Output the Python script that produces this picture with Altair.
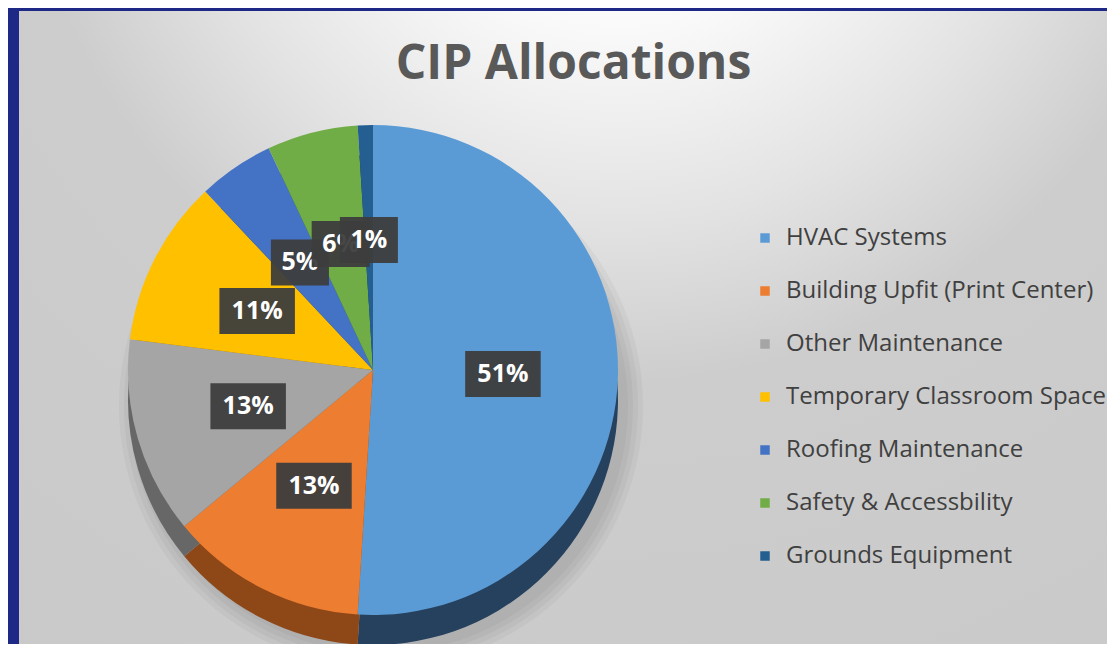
import altair as alt
import pandas as pd

# ---- data ----
categories = [
    "HVAC Systems",
    "Building Upfit (Print Center)",
    "Other Maintenance",
    "Temporary Classroom Space",
    "Roofing Maintenance",
    "Safety & Accessbility",
    "Grounds Equipment",
]
shares = [51, 13, 13, 11, 5, 6, 1]

# ---- styles ----
top_colors = ["#5B9BD5", "#ED7D31", "#A5A5A5", "#FFC000", "#4472C4", "#70AD47", "#255E91"]
side_colors = ["#26415E", "#8E4717", "#676767", "#9A7400", "#2A4679", "#456B2C", "#163A5A"]

df = pd.DataFrame({"category": categories, "value": shares, "order": list(range(len(categories)))})

W, H = 1099, 636
CX, CY, R = 365, 362, 245
DEPTH = 30
LR = 130
FONT = "Open Sans"

one = pd.DataFrame({"k": [0]})

panel = alt.Chart(one).mark_rect(
    color=alt.RadialGradient(
        gradient="radial",
        stops=[
            alt.GradientStop(offset=0, color="#ffffff"),
            alt.GradientStop(offset=0.22, color="#fafafa"),
            alt.GradientStop(offset=0.4, color="#e3e3e3"),
            alt.GradientStop(offset=0.55, color="#cdcdcd"),
            alt.GradientStop(offset=1, color="#c9c9c9"),
        ],
        x1=0.55, y1=0, r1=0, x2=0.55, y2=0, r2=1,
    )
).encode(x=alt.value(11), x2=alt.value(W), y=alt.value(3), y2=alt.value(H))

shadows = [
    alt.Chart(one).mark_arc(radius=R + k, color="#505050", opacity=0.06).encode(
        x=alt.value(CX + 8), y=alt.value(CY + DEPTH + 6)
    )
    for k in (2, 7, 12, 17)
]

base = alt.Chart(df)

side = base.mark_arc(radius=R).encode(
    theta=alt.Theta("value:Q", stack=True),
    order=alt.Order("order:Q"),
    color=alt.Color("category:N", scale=alt.Scale(domain=categories, range=side_colors), legend=None),
    x=alt.value(CX),
    y=alt.value(CY + DEPTH),
)

top = base.mark_arc(radius=R).encode(
    theta=alt.Theta("value:Q", stack=True),
    order=alt.Order("order:Q"),
    color=alt.Color(
        "category:N",
        scale=alt.Scale(domain=categories, range=top_colors),
        legend=alt.Legend(
            title=None,
            orient="none",
            legendX=745,
            legendY=218,
            symbolType="square",
            symbolSize=90,
            symbolStrokeWidth=0,
            labelFont=FONT,
            labelFontSize=24,
            labelColor="#404040",
            labelLimit=400,
            labelOffset=9,
            rowPadding=29,
        ),
    ),
    tooltip=["category:N", "value:Q"],
    x=alt.value(CX),
    y=alt.value(CY),
)

lab = base.transform_window(
    cum="sum(value)", sort=[alt.SortField("order")], frame=[None, 0]
).transform_joinaggregate(total="sum(value)").transform_calculate(
    mid="(datum.cum - datum.value / 2) / datum.total * 2 * PI",
    lx=f"{CX} + {LR} * sin(datum.mid)",
    ly=f"{CY} - {LR} * cos(datum.mid)",
    label="format(datum.value / datum.total, '.0%')",
    bw="23 + 17.5 * length(datum.label)",
    bx1="datum.lx - datum.bw / 2",
    bx2="datum.lx + datum.bw / 2",
    by1="datum.ly - 23",
    by2="datum.ly + 23",
)

label_layers = []
for i in range(len(categories)):
    sub = lab.transform_filter(f"datum.order == {i}")
    box = sub.mark_rect(color="#3d3d3d", opacity=0.95).encode(
        x=alt.X("bx1:Q", scale=None, axis=None),
        x2="bx2:Q",
        y=alt.Y("by1:Q", scale=None, axis=None),
        y2="by2:Q",
    )
    txt = sub.mark_text(
        font=FONT, fontSize=25, fontWeight="bold", color="#ffffff", baseline="middle", align="center"
    ).encode(
        x=alt.X("lx:Q", scale=None, axis=None),
        y=alt.Y("ly:Q", scale=None, axis=None),
        text="label:N",
    )
    label_layers += [box, txt]

chart = (
    alt.layer(panel, *shadows, side, top, *label_layers)
    .resolve_scale(color="independent")
    .properties(
        width=W,
        height=H,
        autosize=alt.AutoSizeParams(type="none"),
        padding=0,
        title=alt.TitleParams(
            "CIP Allocations",
            font=FONT,
            fontSize=48,
            fontWeight="bold",
            color="#595959",
            anchor="middle",
            frame="group",
            offset=0,
            baseline="alphabetic",
            dx=16,
            dy=119,
        ),
    )
    .configure(background="#1E2886")
    .configure_view(stroke=None)
)

chart.save("out.html", embed_options={"renderer": "svg", "actions": False})
